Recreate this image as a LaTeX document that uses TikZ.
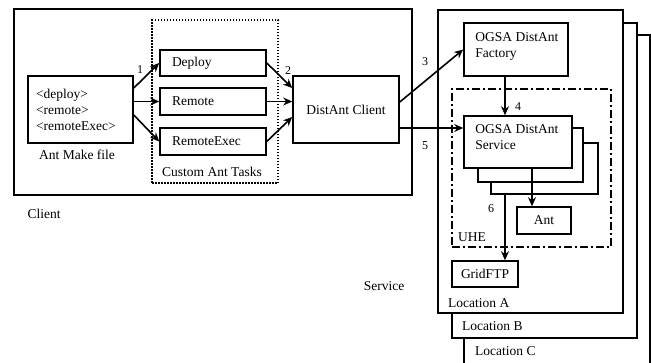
\documentclass[tikz,border=0pt]{standalone}
\usepackage{fontspec}
\setmainfont{Liberation Serif}
\usetikzlibrary{arrows.meta,calc}
\begin{document}
\begin{tikzpicture}[x=1pt,y=-1pt,
  every node/.style={font=\fontsize{13.5}{16}\selectfont},
  box/.style={draw,line width=1.6pt,fill=white,inner sep=0pt},
  lbox/.style={box,align=left,inner xsep=12pt},
  lbl/.style={inner sep=0pt},
  num/.style={inner sep=0pt,font=\fontsize{12}{14}\selectfont},
  arr/.style={line width=1.6pt,-{Stealth[length=9pt,width=8pt,inset=3pt]}},
  dotbox/.style={draw,line width=1.5pt,dash pattern=on 1.5pt off 1.5pt,inner sep=0pt},
  dashdotbox/.style={draw,line width=1.5pt,dash pattern=on 8pt off 3pt on 2pt off 3pt,inner sep=0pt},
]
\useasboundingbox (0,0) rectangle (651,362);

% Locations
\node[box,minimum width=186pt,minimum height=365pt] (locC) at (557,217.5) {};
\node[box,minimum width=185pt,minimum height=315pt] (locB) at (544.5,180.5) {};
\node[box,minimum width=185pt,minimum height=303pt] (locA) at (530.5,161.5) {};
\node[lbl,anchor=west] (labA) at (448,303) {Location A};
\node[lbl,anchor=west] (labB) at (462,326) {Location B};
\node[lbl,anchor=west] (labC) at (475,351) {Location C};

% Client
\node[box,minimum width=398pt,minimum height=186pt] (client) at (213,102) {};
\node[lbl] (clientlab) at (44,214) {Client};
\node[lbl] (servicelab) at (384,286) {Service};

\node[dotbox,minimum width=126pt,minimum height=163pt] (custom) at (215,101.5) {};
\node[lbl] (customlab) at (212,172) {Custom Ant Tasks};

\node[box,align=left,text width=89pt,inner xsep=8pt,minimum height=67pt] (amf) at (80.5,109.5)
  {<deploy>\\<remote>\\<remoteExec>};
\node[lbl] (amflab) at (77,155) {Ant Make file};

\node[lbox,text width=82pt,minimum height=26pt] (deploy) at (213,63) {Deploy};
\node[lbox,text width=82pt,minimum height=27pt] (remote) at (213,101.5) {Remote};
\node[lbox,text width=82pt,minimum height=27pt] (rexec) at (213,141.5) {RemoteExec};

\node[box,minimum width=106pt,minimum height=67pt] (dc) at (346,109.5) {DistAnt Client};

% Service side
\node[box,minimum width=104pt,minimum height=53pt,
  label={[lbl,anchor=north west,align=left,xshift=12pt,yshift=-10pt]north west:OGSA DistAnt\\Factory}]
  (factory) at (516,49.5) {};

\node[dashdotbox,minimum width=159pt,minimum height=158pt] (uhe) at (531.5,168) {};
\node[lbl,anchor=west] (uhelab) at (458,237) {UHE};

\node[box,minimum width=107pt,minimum height=51pt] (shadow3) at (544.5,168.5) {};
\node[box,minimum width=105pt,minimum height=54pt] (shadow2) at (530.5,155) {};
\node[box,minimum width=108pt,minimum height=52pt,
  label={[lbl,anchor=north west,align=left,xshift=12pt,yshift=-9pt]north west:OGSA DistAnt\\Service}]
  (service) at (518,142) {};

\node[box,minimum width=54pt,minimum height=27pt] (ant) at (544,220.5) {Ant};
\node[box,minimum width=66pt,minimum height=26pt] (grid) at (485,274) {GridFTP};

% arrows
\draw[arr] ([yshift=21.5pt]amf.east) -- (deploy.west);
\draw[arr] (amf.east |- remote.west) -- (remote.west);
\draw[arr] ([yshift=-5.5pt]amf.east) -- (rexec.west);
\draw[arr] (deploy.east) -- ([yshift=21.5pt]dc.west);
\draw[arr] (remote.east) -- (dc.west |- remote.east);
\draw[arr] (rexec.east) -- ([yshift=-7.5pt]dc.west);
\draw[arr] ([yshift=7.5pt]dc.east) -- (factory.west);
\coordinate (p5) at ([yshift=14pt]service.west);
\draw[arr] (dc.east |- p5) -- (p5);
\coordinate (p4) at ([xshift=-11pt]factory.south);
\draw[arr] (p4) -- (service.north -| p4);
\coordinate (pa) at ([xshift=14pt]service.south);
\draw[arr] (pa) -- (ant.north -| pa);
\draw[arr] (shadow3.south -| p4) -- (grid.north -| p4);

\node[num] (n1) at (140,70) {1};
\node[num] (n2) at (288,71) {2};
\node[num] (n3) at (425,62) {3};
\node[num] (n4) at (518,107) {4};
\node[num] (n5) at (425,146) {5};
\node[num] (n6) at (491,209) {6};
\end{tikzpicture}
\end{document}
